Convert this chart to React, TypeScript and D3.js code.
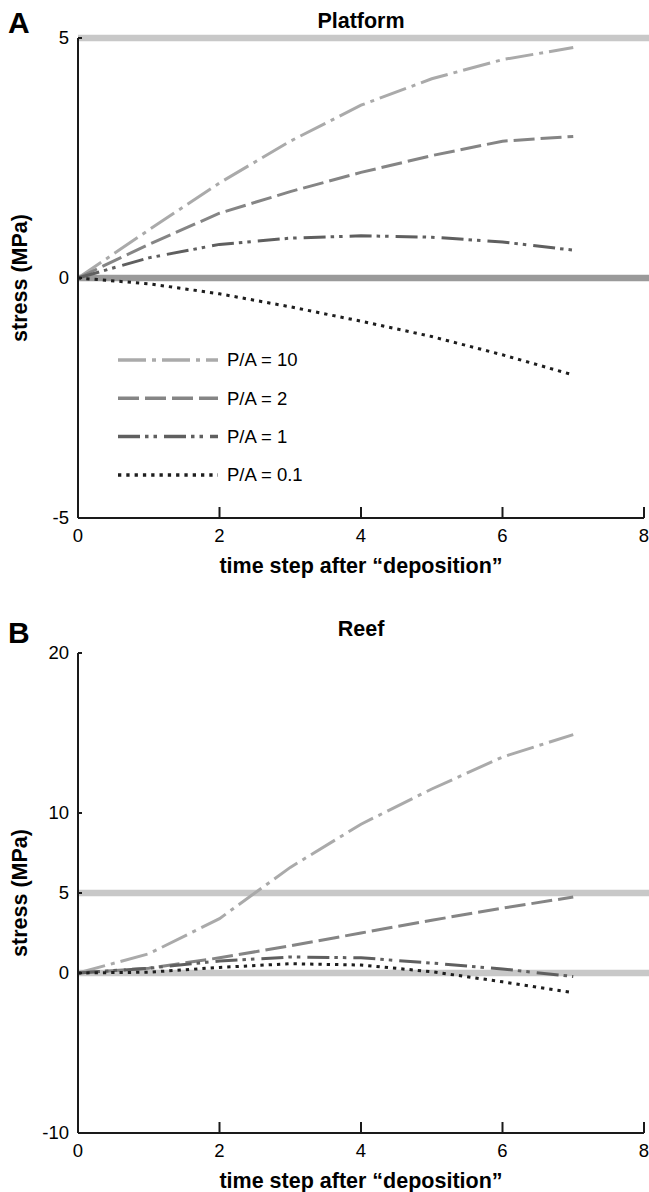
import React from 'react';
import * as d3 from 'd3';

// time steps after "deposition"
const timeSteps = [0, 1, 2, 3, 4, 5, 6, 7];

// legend labels
const seriesLabels = ['P/A = 10', 'P/A = 2', 'P/A = 1', 'P/A = 0.1'];

// Platform panel (MPa)
const platformPA10 = [0, 1.0, 1.98, 2.85, 3.6, 4.15, 4.55, 4.8];
const platformPA2 = [0, 0.7, 1.35, 1.8, 2.2, 2.55, 2.85, 2.95];
const platformPA1 = [0, 0.42, 0.7, 0.83, 0.88, 0.85, 0.75, 0.58];
const platformPA01 = [0, -0.12, -0.33, -0.6, -0.9, -1.22, -1.6, -2.02];

// Reef panel (MPa)
const reefPA10 = [0, 1.2, 3.4, 6.6, 9.3, 11.5, 13.5, 14.9];
const reefPA2 = [0, 0.3, 0.95, 1.7, 2.5, 3.3, 4.05, 4.75];
const reefPA1 = [0, 0.3, 0.75, 1.0, 0.95, 0.62, 0.25, -0.22];
const reefPA01 = [0, 0.05, 0.35, 0.58, 0.5, 0.08, -0.55, -1.23];

const xTicks = [0, 2, 4, 6, 8];
const platformYTicks = [-5, 0, 5];
const reefYTicks = [-10, 0, 5, 10, 20];
const platformRefLines = [5, 0];
const reefRefLines = [5, 0];

// line styles, one per series
const seriesColors = ['#aaaaaa', '#858585', '#5f5f5f', '#1e1e1e'];
const seriesDashes = ['28,6,4,6', '21,6', '22,5,3.5,5,3.5,7', '3.3,5'];

const W = 649;
const H = 1192;
const FONT = '"Liberation Sans", Arial, Helvetica, sans-serif';

const x = d3.scaleLinear().domain([0, 8]).range([78, 644]);

type PanelProps = {
  letter: string;
  title: string;
  series: number[][];
  yDomain: [number, number];
  yRange: [number, number];
  yTicks: number[];
  refLines: number[];
  refColors: string[];
  letterGap: number;
  titleGap: number;
  legend?: boolean;
};

function Panel(props: PanelProps) {
  const { letter, title, series, yDomain, yRange, yTicks, refLines, refColors, letterGap, titleGap, legend } = props;
  const y = d3.scaleLinear().domain(yDomain).range(yRange);
  const line = d3.line<number>()
    .x((_, i) => x(timeSteps[i]))
    .y(d => y(d));
  const yBottom = y(yDomain[0]);
  const yTop = y(yDomain[1]);
  const midY = (yBottom + yTop) / 2;

  return (
    <g>
      <text x={8} y={yTop - letterGap} fontSize={30} fontWeight="bold">{letter}</text>
      <text x={x(4)} y={yTop - titleGap} fontSize={21.5} fontWeight="bold" textAnchor="middle">{title}</text>

      {refLines.map((v, i) => (
        <line key={v} x1={x(0)} x2={W} y1={y(v)} y2={y(v)} stroke={refColors[i]} strokeWidth={6.5} />
      ))}

      {series.map((vals, i) => (
        <path key={i} d={line(vals) || ''} fill="none" stroke={seriesColors[i]}
          strokeWidth={3} strokeDasharray={seriesDashes[i]} />
      ))}

      {/* axes */}
      <line x1={x(0)} x2={x(0)} y1={yTop} y2={yBottom} stroke="#1a1a1a" strokeWidth={2} />
      <line x1={x(0)} x2={x(8)} y1={yBottom} y2={yBottom} stroke="#1a1a1a" strokeWidth={2} />
      {yTicks.map(t => (
        <g key={t}>
          <line x1={x(0)} x2={x(0) + 4} y1={y(t)} y2={y(t)} stroke="#1a1a1a" strokeWidth={2} />
          <text x={69} y={y(t)} dy="0.3em" fontSize={18.5} textAnchor="end">{t}</text>
        </g>
      ))}
      {xTicks.map(t => (
        <g key={t}>
          <line x1={x(t)} x2={x(t)} y1={yBottom} y2={yBottom - 11} stroke="#1a1a1a" strokeWidth={2} />
          <text x={x(t)} y={yBottom + 24} fontSize={18.5} textAnchor="middle">{t}</text>
        </g>
      ))}
      <text x={x(4)} y={yBottom + 55} fontSize={21.5} fontWeight="bold" textAnchor="middle">
        time step after “deposition”
      </text>
      <text transform={`translate(27,${midY}) rotate(-90)`} fontSize={21.5} fontWeight="bold" textAnchor="middle">
        stress (MPa)
      </text>

      {legend && seriesLabels.map((lab, i) => {
        const ly = 360 + i * 38.3;
        return (
          <g key={lab}>
            <line x1={118} x2={218} y1={ly} y2={ly} stroke={seriesColors[i]} strokeWidth={3.5}
              strokeDasharray={seriesDashes[i]} />
            <text x={227} y={ly} dy="0.35em" fontSize={18.5}>{lab}</text>
          </g>
        );
      })}
    </g>
  );
}

export default function App() {
  return (
    <div style={{ position: 'absolute', left: 0, top: 0 }}>
      <svg width={W} height={H} style={{ display: 'block', fontFamily: FONT, background: '#fff' }}>
        <Panel
          letter="A"
          title="Platform"
          series={[platformPA10, platformPA2, platformPA1, platformPA01]}
          yDomain={[-5, 5]}
          yRange={[518, 38]}
          yTicks={platformYTicks}
          refLines={platformRefLines}
          refColors={['#c8c8c8', '#9a9a9a']}
          letterGap={5}
          titleGap={10}
          legend
        />
        <Panel
          letter="B"
          title="Reef"
          series={[reefPA10, reefPA2, reefPA1, reefPA01]}
          yDomain={[-10, 20]}
          yRange={[1133, 653]}
          yTicks={reefYTicks}
          refLines={reefRefLines}
          refColors={['#c8c8c8', '#c8c8c8']}
          letterGap={10}
          titleGap={17}
        />
      </svg>
    </div>
  );
}
